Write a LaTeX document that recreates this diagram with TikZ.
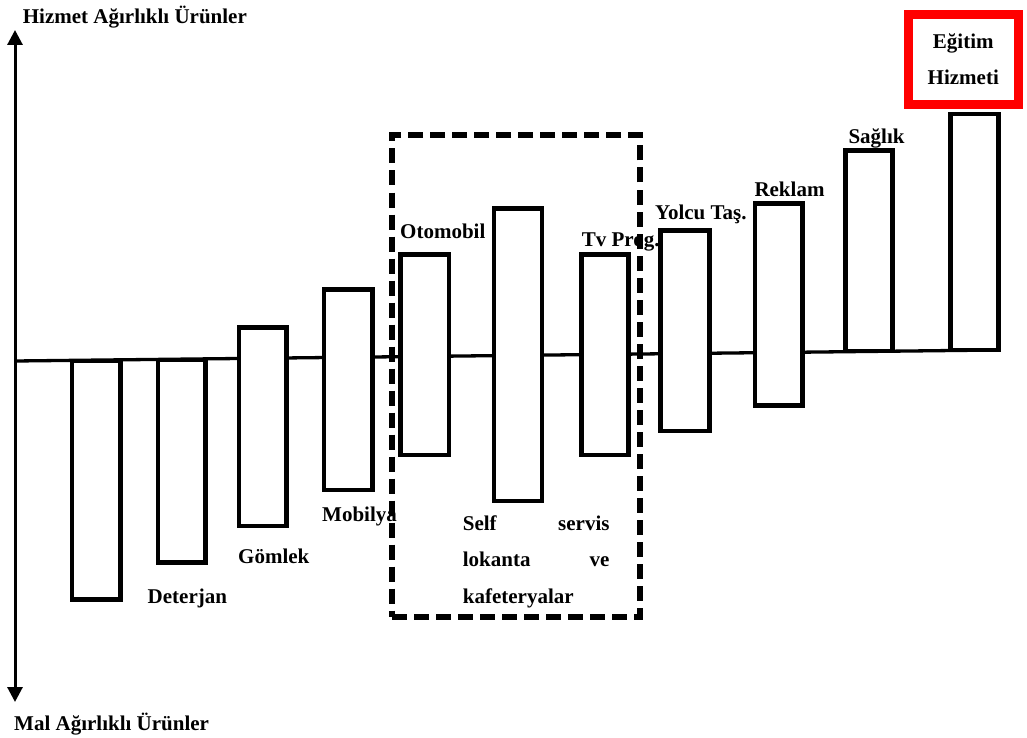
\documentclass[tikz,border=0pt]{standalone}
\usepackage{fontspec}
\setmainfont{Liberation Serif}
\usetikzlibrary{arrows.meta}
\begin{document}
\begin{tikzpicture}[x=1pt,y=-1pt,
  bar/.style={draw=black, line width=4.5pt, fill=white, inner sep=0pt, outer sep=0pt},
  lbl/.style={font=\fontsize{21}{25}\selectfont\bfseries, inner sep=0pt, anchor=base west},
  axisline/.style={line width=3pt, {Triangle[width=15pt,length=15pt]}-{Triangle[width=15pt,length=15pt]}},
  baseline/.style={line width=3.3pt},
  group/.style={draw=black, line width=6pt, dash pattern=on 15pt off 7pt, inner sep=0pt},
  highlight/.style={draw=red, line width=9pt, inner sep=0pt, align=center,
    font=\fontsize{21}{35.7}\selectfont\bfseries},
  ]
\useasboundingbox (0,0) rectangle (1027,738);

% vertical axis: goods (bottom) to services (top)
\coordinate (ybot) at (15,702);
\coordinate (ytop) at (15,30);
\draw[axisline] (ybot) -- (ytop);

% reference line across the bars
\coordinate (o) at (15,361);
\coordinate (e) at (998.5,350);
\draw[baseline] (o) -- (e);

% product bars
\node[bar, minimum width=48.5, minimum height=238.5] (b1)  at (96.25,480.25) {};
\node[bar, minimum width=47.5, minimum height=202.5] (b2)  at (181.75,461.25) {};
\node[bar, minimum width=47.5, minimum height=198.5] (b3)  at (262.75,426.75) {};
\node[bar, minimum width=48.5, minimum height=200.5] (b4)  at (348.25,389.75) {};
\node[bar, minimum width=48.5, minimum height=200.3] (b5)  at (424.75,354.85) {};
\node[bar, minimum width=48,   minimum height=292.3] (b6)  at (518,354.85) {};
\node[bar, minimum width=46.8, minimum height=200.3] (b7)  at (604.9,354.85) {};
\node[bar, minimum width=49,   minimum height=200.5] (b8)  at (685,330.75) {};
\node[bar, minimum width=47.5, minimum height=202]   (b9)  at (778.75,304.5) {};
\node[bar, minimum width=47,   minimum height=200.5] (b10) at (869,250.75) {};
\node[bar, minimum width=48,   minimum height=236]   (b11) at (974.5,232) {};

% dashed group frame
\node[group, minimum width=248, minimum height=481] (grp) at (516,376) {};

% highlighted label
\node[highlight, minimum width=109.5, minimum height=90] (edu) at (963.25,59.5) {Eğitim\\Hizmeti};

% axis titles
\node[lbl] (ttop) at (22.7,23.3) {Hizmet Ağırlıklı Ürünler};
\node[lbl] (tbot) at (14,730) {Mal Ağırlıklı Ürünler};

% bar labels
\node[lbl] (l1) at (147.5,603) {Deterjan};
\node[lbl] (l3) at (238,563) {Gömlek};
\node[lbl] (l4) at (322,521) {Mobilya};
\node[lbl] (l5) at (400,238.3) {Otomobil};
\node[lbl] (l7) at (581.7,246) {Tv Prog.};
\node[lbl] (l8) at (655,219.3) {Yolcu Taş.};
\node[lbl] (l9) at (754.3,196.7) {Reklam};
\node[lbl] (l10) at (848.3,143.3) {Sağlık};
% justified three-line label; base anchor sits on the last line
\node[lbl, font=\fontsize{21}{36.5}\selectfont\bfseries, align=left] (l6) at (462.7,603.3)
  {\hbox to 146.6pt{Self\hfill servis}\\\hbox to 146.6pt{lokanta\hfill ve}\\kafeteryalar};
\end{tikzpicture}
\end{document}
